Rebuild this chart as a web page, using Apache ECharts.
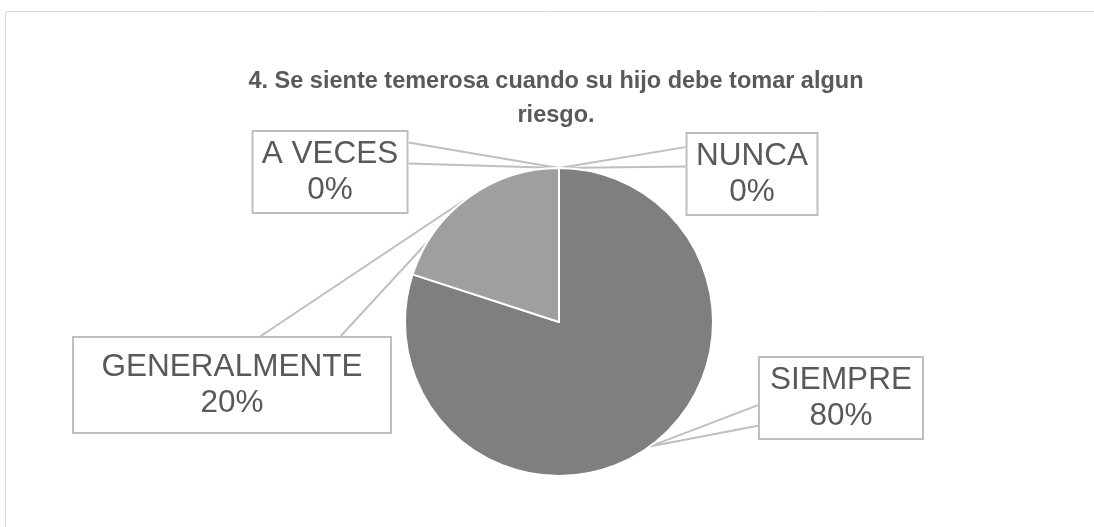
<!DOCTYPE html>
<html>
<head>
<meta charset="utf-8">
<script src="https://cdn.jsdelivr.net/npm/echarts@6/dist/echarts.min.js"></script>
<style>
  html, body { margin: 0; padding: 0; background: #fff; }
  #chart { width: 1094px; height: 527px; }
</style>
</head>
<body>
<div id="chart"></div>
<script>
// datos
const categories = ["NUNCA", "SIEMPRE", "GENERALMENTE", "A VECES"];
const percents = [0, 80, 20, 0];
const sliceColors = ["#7f7f7f", "#7f7f7f", "#9f9f9f", "#9f9f9f"];
const titleText = "4. Se siente temerosa cuando su hijo debe tomar algun\nriesgo.";

// cajas de las etiquetas: centro, tamaño del contenido y lado del "pico"
const boxCenters = [[752, 174], [841, 398], [232, 385], [330, 172]];
const boxWidths = [109, 142, 296, 133];
const boxHeights = [72, 72, 86, 72];
const wedges = [
  { side: "left", a: 0.18, b: 0.41 },
  { side: "left", a: 0.585, b: 0.83 },
  { side: "top", a: 0.59, b: 0.84 },
  { side: "right", a: 0.15, b: 0.4 },
];

const chart = echarts.init(document.getElementById("chart"));

function calloutLine(params) {
  const i = params.dataIndex;
  const c = boxCenters[i];
  const w = params.labelRect.width;
  const h = params.labelRect.height;
  const x0 = c[0] - w / 2;
  const y0 = c[1] - h / 2;
  const wd = wedges[i];
  let p1, p2;
  if (wd.side === "left") {
    p1 = [x0, y0 + h * wd.a];
    p2 = [x0, y0 + h * wd.b];
  } else if (wd.side === "right") {
    p1 = [x0 + w, y0 + h * wd.a];
    p2 = [x0 + w, y0 + h * wd.b];
  } else {
    p1 = [x0 + w * wd.a, y0];
    p2 = [x0 + w * wd.b, y0];
  }
  const tip = params.labelLinePoints ? params.labelLinePoints[0] : [c[0], c[1]];
  return [p1, tip, p2];
}

const option = {
  animation: false,
  backgroundColor: "#fff",
  title: {
    text: titleText,
    left: 551,
    top: 60,
    textAlign: "center",
    textStyle: {
      fontFamily: "Liberation Sans, Arial",
      fontSize: 23.5,
      fontWeight: "bold",
      color: "#595959",
      lineHeight: 34,
    },
  },
  graphic: [
    {
      type: "rect",
      shape: { x: 5.5, y: 11.5, width: 1100, height: 530 },
      style: { fill: "none", stroke: "#d9d9d9", lineWidth: 1 },
      silent: true,
    },
  ],
  series: [
    {
      type: "pie",
      center: [559, 322],
      radius: 154,
      startAngle: 90,
      clockwise: true,
      stillShowZeroSum: true,
      minShowLabelAngle: 0,
      itemStyle: { borderColor: "#fff", borderWidth: 2 },
      label: {
        show: true,
        formatter: "{b}\n{d}%",
        fontFamily: "Liberation Sans, Arial",
        fontSize: 31.5,
        lineHeight: 36,
        color: "#595959",
        align: "center",
        verticalAlign: "middle",
        overflow: "none",
        backgroundColor: "#fff",
        borderColor: "#bfbfbf",
        borderWidth: 2,
        padding: [4, 10],
      },
      labelLine: {
        show: true,
        length: 20,
        length2: 20,
        lineStyle: { color: "#bfbfbf", width: 2 },
      },
      labelLayout: function (params) {
        const c = boxCenters[params.dataIndex];
        return {
          x: c[0],
          y: c[1],
          align: "center",
          verticalAlign: "middle",
          labelLinePoints: calloutLine(params),
        };
      },
      data: categories.map(function (name, i) {
        return {
          name: name,
          value: percents[i],
          itemStyle: { color: sliceColors[i] },
          label: { width: boxWidths[i], height: boxHeights[i] },
        };
      }),
    },
  ],
};

chart.setOption(option);
</script>
</body>
</html>
